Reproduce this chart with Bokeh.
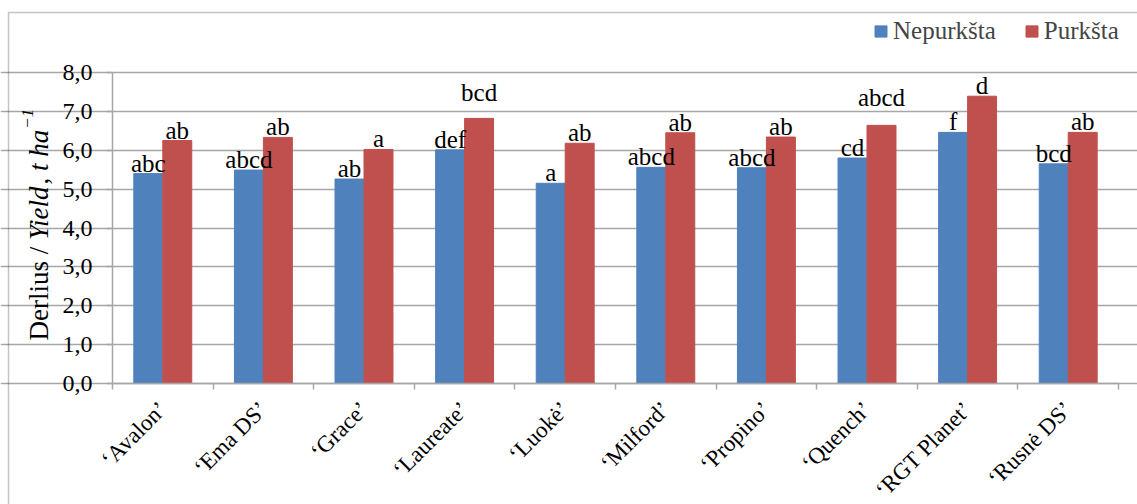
import math
from bokeh.plotting import figure
from bokeh.models import (FixedTicker, Legend, LegendItem, Label, BoxAnnotation,
                          ColumnDataSource)
from bokeh.core.properties import value
from bokeh.transform import dodge
from bokeh.embed import file_html
from bokeh.resources import INLINE

# ---- data ----
varieties = ["\u2018Avalon\u2019", "\u2018Ema DS\u2019", "\u2018Grace\u2019", "\u2018Laureate\u2019",
             "\u2018Luok\u0117\u2019", "\u2018Milford\u2019", "\u2018Propino\u2019", "\u2018Quench\u2019",
             "\u2018RGT Planet\u2019", "\u2018Rusn\u0117 DS\u2019"]
nepurksta = [5.40, 5.49, 5.26, 6.01, 5.15, 5.56, 5.55, 5.80, 6.46, 5.65]
purksta = [6.25, 6.33, 6.02, 6.82, 6.18, 6.45, 6.34, 6.64, 7.39, 6.46]
letters_nep = ["abc", "abcd", "ab", "def", "a", "abcd", "abcd", "cd", "f", "bcd"]
letters_purk = ["ab", "ab", "a", "bcd", "ab", "ab", "ab", "abcd", "d", "ab"]
y_ticks = [0, 1, 2, 3, 4, 5, 6, 7, 8]
y_tick_labels = ["0,0", "1,0", "2,0", "3,0", "4,0", "5,0", "6,0", "7,0", "8,0"]
series_names = ["Nepurk\u0161ta", "Purk\u0161ta"]

BLUE = "#4F81BD"
RED = "#C0504D"
GRID = "#a6a6a6"
FONT = "'Liberation Serif', 'Times New Roman', serif"

W, H = 1137, 504
FL, FR, FT, FB = 112, 1118, 72, 383          # plot-area edges in canvas px
n = len(varieties)
YMAX = y_ticks[-1]
PXX = (FR - FL) / n                           # px per x unit
PXY = (FB - FT) / YMAX                        # px per y unit

# layout nudge (px) for a few letter labels that sit higher in the original
label_lift = {"\u2018Laureate\u2019": 15, "\u2018Quench\u2019": 17}


def dx(px):   # canvas px -> x data
    return (px - FL) / PXX


def dy(py):   # canvas px -> y data
    return (FB - py) / PXY


centers = [i + 0.5 for i in range(n)]
src = ColumnDataSource(dict(x=centers, nep=nepurksta, purk=purksta,
                            lnep=letters_nep, lpurk=letters_purk,
                            off_nep=[3] * n,
                            off_purk=[3 - label_lift.get(v, 0) for v in varieties]))

# the frame fills the whole canvas; axes are pinned at data 0
p = figure(width=W, height=H, x_range=(dx(0), dx(W)), y_range=(dy(H), dy(0)),
           output_backend="svg", toolbar_location=None, title=None,
           min_border_left=0, min_border_right=0, min_border_top=0,
           min_border_bottom=0)
p.outline_line_color = None

bw = 0.288
r1 = p.vbar(x=dodge("x", -bw / 2), top="nep", width=bw, bottom=0, source=src,
            fill_color=BLUE, line_color=BLUE)
r2 = p.vbar(x=dodge("x", bw / 2), top="purk", width=bw, bottom=0, source=src,
            fill_color=RED, line_color=RED)

for xoff, col, lab, off in [(-bw / 2, "nep", "lnep", "off_nep"),
                            (bw / 2, "purk", "lpurk", "off_purk")]:
    p.text(x=dodge("x", xoff), y=col, text=lab, source=src, text_align="center",
           text_baseline="bottom", text_font=value(FONT), text_font_size="25px",
           text_color="black", y_offset=off)

# y axis
ya = p.yaxis[0]
ya.fixed_location = 0
ya.bounds = (0, YMAX)
ya.ticker = FixedTicker(ticks=y_ticks)
ya.major_label_overrides = {t: l for t, l in zip(y_ticks, y_tick_labels)}
ya.major_label_text_font = FONT
ya.major_label_text_font_size = "24px"
ya.major_label_text_color = "black"
ya.major_label_standoff = 14
ya.axis_line_color = GRID
ya.axis_line_width = 1.5
ya.major_tick_line_color = GRID
ya.major_tick_line_width = 1.5
ya.major_tick_out = 6
ya.major_tick_in = 0
ya.minor_tick_line_color = None

p.ygrid.ticker = FixedTicker(ticks=y_ticks)
p.ygrid.bounds = (0, n)
p.ygrid.grid_line_color = GRID
p.ygrid.grid_line_width = 1.5
p.xgrid.grid_line_color = None

# x axis
xa = p.xaxis[0]
xa.fixed_location = 0
xa.bounds = (0, n)
xa.ticker = FixedTicker(ticks=centers, minor_ticks=list(range(n + 1)))
xa.major_label_overrides = {c: v for c, v in zip(centers, varieties)}
xa.major_label_orientation = math.pi / 4
xa.major_label_text_font = FONT
xa.major_label_text_font_size = "23px"
xa.major_label_text_color = "black"
xa.major_label_standoff = 16
xa.major_tick_line_color = None
xa.major_tick_out = 0
xa.major_tick_in = 0
xa.minor_tick_line_color = GRID
xa.minor_tick_line_width = 1.5
xa.minor_tick_out = 6
xa.minor_tick_in = 0
xa.axis_line_color = GRID
xa.axis_line_width = 1.5

# legend at top right
legend = Legend(items=[LegendItem(label=series_names[0], renderers=[r1]),
                       LegendItem(label=series_names[1], renderers=[r2])],
                orientation="horizontal", location=(873, H - 45),
                glyph_width=15, glyph_height=14, label_standoff=5, spacing=28,
                label_text_font=FONT, label_text_font_size="25px",
                padding=0, margin=0, border_line_color=None,
                background_fill_alpha=0)
p.add_layout(legend, "center")

# y axis title in parts (italic pieces), placed in data units
fs = 27
parts = [("Derlius / ", "normal", 3.722), ("Yield", "italic", 2.056),
         (", ", "normal", 0.5), ("t ha", "italic", 1.528)]
ypos = 340
for txt, style, em in parts:
    p.add_layout(Label(x=dx(38), y=dy(ypos), text=txt,
                       angle=math.pi / 2, text_font=FONT, text_font_size=f"{fs}px",
                       text_font_style=style, text_color="black",
                       text_baseline="middle", text_align="left"))
    ypos -= em * fs
p.add_layout(Label(x=dx(27), y=dy(ypos - 1), text="\u22121",
                   angle=math.pi / 2, text_font=FONT, text_font_size="17px",
                   text_font_style="italic",
                   text_color="black", text_baseline="middle", text_align="left"))

# chart border
p.add_layout(BoxAnnotation(left=dx(8), right=dx(W + 20), top=dy(12), bottom=dy(H + 20),
                           fill_alpha=0, line_color="#3c3c3c", line_width=1.5))

open("out.html", "w").write(file_html(p, INLINE))
